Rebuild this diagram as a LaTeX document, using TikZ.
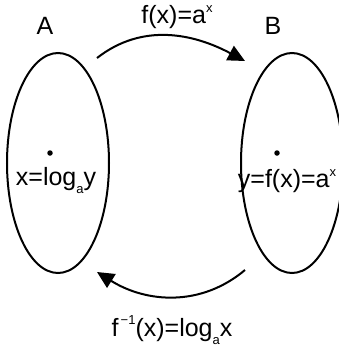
\documentclass[tikz,border=0pt]{standalone}
\usepackage{fontspec}
\setmainfont{Liberation Sans}
\usetikzlibrary{shapes.geometric,arrows.meta,positioning}
\newcommand{\lowidx}[1]{\raisebox{-0.32em}{\fontsize{13}{13}\selectfont #1}}
\newcommand{\highidx}[1]{\raisebox{0.45em}{\fontsize{13}{13}\selectfont #1}}

\begin{document}
\begin{tikzpicture}[x=1pt, y=1pt, line width=2pt, font=\fontsize{25}{30}\selectfont]
    \tikzset{
        setbox/.style={draw, ellipse, minimum width=102pt, minimum height=220pt, inner sep=0pt},
        setname/.style={inner sep=0pt},
        elem/.style={circle, fill, inner sep=0pt, minimum size=5.5pt},
        maplabel/.style={inner sep=0pt},
        line/.style={draw, -{Triangle[length=17pt, width=16pt]}}
    }
    \useasboundingbox (0,0) rectangle (339,-354);

    % Sets
    \node[setbox] (setA) at (58,-163) {};
    \node[setbox] (setB) at (292,-163) {};
    \node[setname] (nameA) at (45,-26) {A};
    \node[setname] (nameB) at (273,-26) {B};

    % Elements
    \node[elem] (ptA) at (50,-153) {};
    \node[elem] (ptB) at (277,-153) {};
    \node[maplabel] (xA) at (56,-181) {x=log\lowidx{a}y};
    \node[maplabel] (yB) at (287,-181) {y=f(x)=a\highidx{x}};

    % Mappings
    \coordinate (fromA) at (97,-58);
    \coordinate (toB) at (245,-61);
    \coordinate (fromB) at (245,-270);
    \coordinate (toA) at (97,-272);
    \path[line] (fromA) to[out=38, in=152] (toB);
    \path[line] (fromB) to[out=-140, in=-32] (toA);
    \node[maplabel] (fLab) at (177,-17) {f(x)=a\highidx{x}};
    \node[maplabel] (finvLab) at (172,-330) {f\highidx{\,−1}(x)=log\lowidx{a}x};
\end{tikzpicture}
\end{document}
